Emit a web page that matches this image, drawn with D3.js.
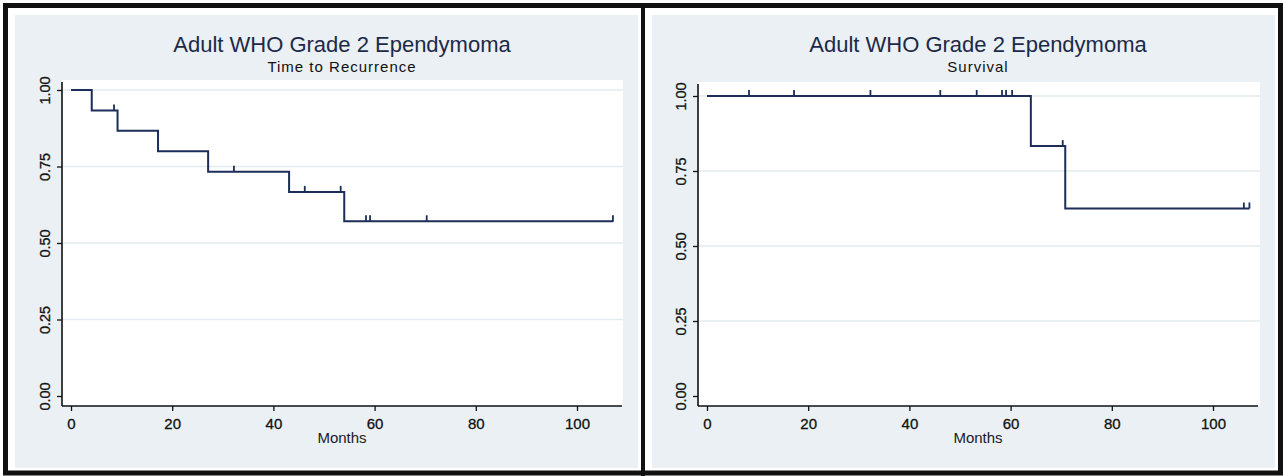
<!DOCTYPE html>
<html>
<head>
<meta charset="utf-8">
<script src="https://cdn.jsdelivr.net/npm/d3@7"></script>
<style>
  html, body { margin: 0; padding: 0; background: #ffffff; }
  svg { display: block; }
  text { font-family: "Liberation Sans", Arial, sans-serif; }
</style>
</head>
<body>
<svg id="chart" width="1283" height="476"></svg>
<script>
// ---------- DATA ----------
const titleText = "Adult WHO Grade 2 Ependymoma";
const subtitles = ["Time to Recurrence", "Survival"];
const xLabel = "Months";
const xTicks = [0, 20, 40, 60, 80, 100];
const yTicks = [0, 0.25, 0.5, 0.75, 1];
const yTickLabels = ["0.00", "0.25", "0.50", "0.75", "1.00"];

// Time to recurrence (Kaplan-Meier step function)
const recurStepTimes = [0, 4.1, 9.2, 17.2, 27.1, 43.1, 54.0];
const recurStepValues = [1.0, 0.933, 0.867, 0.800, 0.733, 0.667, 0.571];
const recurEndTime = 107.2;
const recurCensorTimes = [8.5, 32.2, 46.2, 53.3, 58.3, 59.1, 70.3, 107.1];

// Survival
const survStepTimes = [0, 64.0, 70.8];
const survStepValues = [1.0, 0.833, 0.625];
const survEndTime = 107.2;
const survCensorTimes = [8.3, 17.2, 32.3, 46.1, 53.3, 58.3, 59.1, 60.3, 70.3, 106.1, 107.2];

// ---------- LAYOUT ----------
const panels = [
  { sub: subtitles[0], times: recurStepTimes, vals: recurStepValues, end: recurEndTime, cens: recurCensorTimes,
    bg: [15, 15, 638, 468], plot: [62, 80, 623, 406], x0: 71, x100: 577, yTop: 90, yBot: 396, axisRight: 622 },
  { sub: subtitles[1], times: survStepTimes, vals: survStepValues, end: survEndTime, cens: survCensorTimes,
    bg: [652, 15, 1275, 468], plot: [698, 82, 1260, 406], x0: 707, x100: 1213, yTop: 96, yBot: 396, axisRight: 1258 }
];

const svg = d3.select("#chart");
const lineColor = "#1b2d58";
const gridColor = "#e3eaee";
const bgColor = "#eaf0f3";

panels.forEach(p => {
  const g = svg.append("g");
  // graph region background
  g.append("rect").attr("x", p.bg[0]).attr("y", p.bg[1])
    .attr("width", p.bg[2] - p.bg[0]).attr("height", p.bg[3] - p.bg[1]).attr("fill", bgColor);
  // plot region
  g.append("rect").attr("x", p.plot[0]).attr("y", p.plot[1])
    .attr("width", p.plot[2] - p.plot[0]).attr("height", p.plot[3] - p.plot[1]).attr("fill", "#ffffff");

  const x = d3.scaleLinear().domain([0, 100]).range([p.x0, p.x100]);
  const y = d3.scaleLinear().domain([0, 1]).range([p.yBot, p.yTop]);

  // gridlines
  g.selectAll(".grid").data(yTicks.filter(v => v > 0)).enter().append("line")
    .attr("x1", p.plot[0] + 1).attr("x2", p.plot[2])
    .attr("y1", d => y(d)).attr("y2", d => y(d))
    .attr("stroke", gridColor).attr("stroke-width", 1.5);

  // y axis
  const yAxis = d3.axisLeft(y).tickValues(yTicks).tickSize(5).tickFormat((d, i) => yTickLabels[i]);
  const ya = g.append("g").attr("transform", `translate(${p.plot[0]},0)`).call(yAxis);
  ya.select(".domain").attr("d", `M0,${p.plot[1] + 2}V${p.plot[3]}`).attr("stroke", "#111").attr("stroke-width", 1.6);
  ya.selectAll(".tick line").attr("stroke", "#111").attr("stroke-width", 1.3);
  ya.selectAll(".tick text")
    .attr("x", 0).attr("y", 0).attr("dx", 0)
    .attr("dy", null)
    .attr("text-anchor", "middle")
    .attr("font-size", 14.5).attr("fill", "#111")
    .attr("stroke", "#111").attr("stroke-width", 0.3)
    .attr("transform", "translate(-12,0) rotate(-90)");

  // x axis
  const xAxis = d3.axisBottom(x).tickValues(xTicks).tickSize(5).tickFormat(d3.format("d"));
  const xa = g.append("g").attr("transform", `translate(0,${p.plot[3]})`).call(xAxis);
  xa.select(".domain").attr("d", `M${p.plot[0]},0H${p.axisRight}`).attr("stroke", "#111").attr("stroke-width", 1.6);
  xa.selectAll(".tick line").attr("stroke", "#111").attr("stroke-width", 1.3);
  xa.selectAll(".tick text").attr("font-size", 15).attr("fill", "#111")
    .attr("stroke", "#111").attr("stroke-width", 0.3)
    .attr("y", 12).attr("dy", "0.71em");

  // x label
  const cx = (p.plot[0] + p.axisRight) / 2;
  g.append("text").attr("x", cx).attr("y", 443).attr("text-anchor", "middle")
    .attr("font-size", 15).attr("fill", "#1a1a2a").text(xLabel);

  // titles
  g.append("text").attr("x", cx).attr("y", 52).attr("text-anchor", "middle")
    .attr("font-size", 22).attr("fill", "#1c2a48").text(titleText);
  g.append("text").attr("x", cx).attr("y", 72).attr("text-anchor", "middle")
    .attr("font-size", 15).attr("letter-spacing", "1px").attr("fill", "#111").text(p.sub);

  // step curve
  const pts = p.times.map((t, i) => [t, p.vals[i]]);
  pts.push([p.end, p.vals[p.vals.length - 1]]);
  const line = d3.line().x(d => x(d[0])).y(d => y(d[1])).curve(d3.curveStepAfter);
  g.append("path").datum(pts).attr("d", line)
    .attr("fill", "none").attr("stroke", lineColor).attr("stroke-width", 2);

  // censor marks
  const valAt = t => {
    let v = p.vals[0];
    for (let i = 0; i < p.times.length; i++) if (p.times[i] <= t) v = p.vals[i];
    return v;
  };
  g.selectAll(".cens").data(p.cens).enter().append("line")
    .attr("x1", d => x(d)).attr("x2", d => x(d))
    .attr("y1", d => y(valAt(d))).attr("y2", d => y(valAt(d)) - 6)
    .attr("stroke", lineColor).attr("stroke-width", 1.8);
});

// outer frame and divider
svg.append("rect").attr("x", 5.5).attr("y", 5.5).attr("width", 1283 - 8).attr("height", 476 - 8.5)
  .attr("fill", "none").attr("stroke", "#111").attr("stroke-width", 5);
svg.append("line").attr("x1", 643).attr("x2", 643).attr("y1", 4).attr("y2", 476)
  .attr("stroke", "#111").attr("stroke-width", 4);
</script>
</body>
</html>
